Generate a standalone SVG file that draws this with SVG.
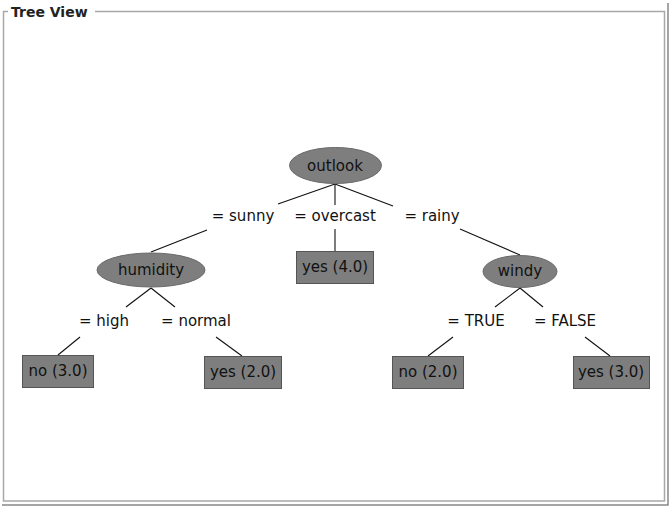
<svg xmlns="http://www.w3.org/2000/svg" width="670" height="507" viewBox="0 0 670 507">
<style>
text{font-family:"DejaVu Sans","Liberation Sans",sans-serif;font-size:15px;fill:#111;text-anchor:middle}
.title{font-size:14px;font-weight:bold;text-anchor:start;fill:#222}
.node{fill:#7e7e7e;stroke:#6a6a6a;stroke-width:1}
.leaf{fill:#7e7e7e;stroke:#555;stroke-width:1}
.edge{stroke:#111;stroke-width:1.1;fill:none}
.frame{stroke:#a8a8a8;stroke-width:1.5;fill:none}
</style>
<rect width="670" height="507" fill="#fff"/>
<g id="frame">
<path class="frame" d="M8 11.5 H3.5 V501 H664.5 V11.5 H95"/>
<path d="M668 3 V505 H2" stroke="#888" stroke-width="1.5" fill="none"/>
<text class="title" x="11" y="17">Tree View</text>
</g>
<g id="connectors">
<line class="edge" x1="335" y1="184" x2="278" y2="204"/>
<line class="edge" x1="335" y1="184" x2="335" y2="205"/>
<line class="edge" x1="335" y1="184" x2="393" y2="206"/>
<line class="edge" x1="207" y1="230" x2="151" y2="252"/>
<line class="edge" x1="335" y1="229" x2="335" y2="251"/>
<line class="edge" x1="460" y1="229" x2="520" y2="255"/>
<line class="edge" x1="151" y1="288" x2="126" y2="307"/>
<line class="edge" x1="151" y1="288" x2="175" y2="307"/>
<line class="edge" x1="80" y1="337" x2="58" y2="355"/>
<line class="edge" x1="216" y1="337" x2="242" y2="356"/>
<line class="edge" x1="520" y1="288" x2="495" y2="307"/>
<line class="edge" x1="520" y1="288" x2="543" y2="307"/>
<line class="edge" x1="453" y1="337" x2="428" y2="356"/>
<line class="edge" x1="585" y1="337" x2="610" y2="356"/>
<text x="243" y="221">= sunny</text>
<text x="335" y="221">= overcast</text>
<text x="432" y="221">= rainy</text>
<text x="104" y="326">= high</text>
<text x="196" y="326">= normal</text>
<text x="476" y="326">= TRUE</text>
<text x="565" y="326">= FALSE</text>
</g>
<g id="outlook">
<ellipse class="node" cx="335.5" cy="165.5" rx="46" ry="18"/>
<text x="335" y="171">outlook</text>
</g>
<g id="overcast_yes">
<rect class="leaf" x="296.5" y="251.5" width="77" height="32"/>
<text x="335" y="272">yes (4.0)</text>
</g>
<g id="humidity">
<ellipse class="node" cx="151" cy="270" rx="54" ry="17"/>
<text x="151" y="275">humidity</text>
</g>
<g id="windy">
<ellipse class="node" cx="520" cy="271.5" rx="37" ry="16"/>
<text x="520" y="276">windy</text>
</g>
<g id="high_no">
<rect class="leaf" x="22.5" y="355.5" width="71" height="32"/>
<text x="58" y="376">no (3.0)</text>
</g>
<g id="normal_yes">
<rect class="leaf" x="204.5" y="356.5" width="77" height="32"/>
<text x="243" y="377">yes (2.0)</text>
</g>
<g id="true_no">
<rect class="leaf" x="392.5" y="356.5" width="71" height="32"/>
<text x="428" y="377">no (2.0)</text>
</g>
<g id="false_yes">
<rect class="leaf" x="573.5" y="356.5" width="76" height="32"/>
<text x="611" y="377">yes (3.0)</text>
</g>
</svg>
